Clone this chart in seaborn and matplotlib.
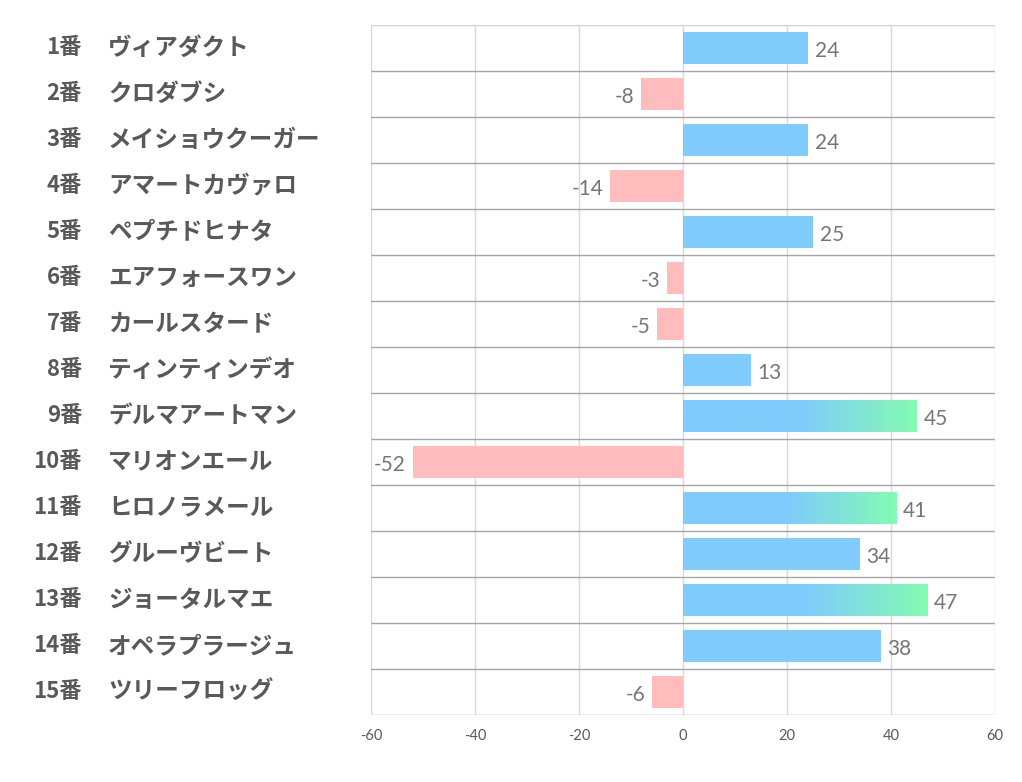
import matplotlib
matplotlib.use("Agg")
import matplotlib.pyplot as plt
import matplotlib.transforms as mtransforms
from matplotlib.colors import LinearSegmentedColormap
import numpy as np
import pandas as pd
import seaborn as sns

nums = ["1番", "2番", "3番", "4番", "5番", "6番", "7番", "8番", "9番", "10番",
        "11番", "12番", "13番", "14番", "15番"]
names = ["ヴィアダクト", "クロダブシ", "メイショウクーガー", "アマートカヴァロ", "ペプチドヒナタ",
         "エアフォースワン", "カールスタード", "ティンティンデオ", "デルマアートマン", "マリオンエール",
         "ヒロノラメール", "グルーヴビート", "ジョータルマエ", "オペラプラージュ", "ツリーフロッグ"]
values = [24, -8, 24, -14, 25, -3, -5, 13, 45, -52, 41, 34, 47, 38, -6]
xticks = [-60, -40, -20, 0, 20, 40, 60]

BLUE = "#7ccbfd"
PINK = "#ffbbbc"
GREEN = "#80fcb0"

sns.set_style("white")
plt.rcParams['font.family'] = ['Noto Sans CJK JP', 'DejaVu Sans']

df = pd.DataFrame({"label": [n + " " + m for n, m in zip(nums, names)], "value": values})
colors = [BLUE if v >= 0 else PINK for v in values]

fig = plt.figure(figsize=(10.22, 7.82), dpi=100)
ax = fig.add_axes([371 / 1022, 1 - 715 / 782, 624 / 1022, 690 / 782])

sns.barplot(data=df, x="value", y="label", hue="label", palette=colors, legend=False,
            width=0.68, ax=ax, zorder=3, alpha=0.98, linewidth=0, saturation=1)

ax.set_xlim(-60, 60)
ax.set_ylim(len(values) - 0.5, -0.5)
ax.set_xticks(xticks)
ax.set_xticklabels([str(t) for t in xticks], fontsize=10.5, color="#595959", family="Lato")
ax.tick_params(axis="x", length=0, pad=10)
ax.set_yticks([])
ax.set_xlabel("")
ax.set_ylabel("")
for s in ax.spines.values():
    s.set_visible(False)

# grid
for t in xticks:
    ax.axvline(t, color="#d9d9d9", lw=1, zorder=1)
ax.axhline(-0.5, color="#d0d0d0", lw=1, zorder=1)
for i in range(len(values)):
    ax.axhline(i + 0.5, color="#a6a6a6", lw=1, zorder=1)

# gradient bars
cmap = LinearSegmentedColormap.from_list("bg", [BLUE, BLUE, GREEN], N=256)
grad = np.linspace(0, 1, 256).reshape(1, -1)
for i, (p, v) in enumerate(zip(ax.patches, values)):
    if v >= 40:
        x0, y0 = p.get_x(), p.get_y()
        w, h = p.get_width(), p.get_height()
        p.set_facecolor("none")
        im = ax.imshow(grad, cmap=cmap, extent=[x0, x0 + w, y0 + h, y0], aspect="auto",
                       zorder=3, alpha=0.98, interpolation="bicubic")
        im.set_clip_path(p)

ax.set_xlim(-60, 60)
ax.set_ylim(len(values) - 0.5, -0.5)

# value labels
for i, v in enumerate(values):
    off = 1.3 if v >= 0 else -1.3
    ax.text(v + off, i + 0.06, str(v), ha="left" if v >= 0 else "right", va="center",
            fontsize=15, color="#767676", family="Lato", zorder=4)

# category labels
tr = mtransforms.blended_transform_factory(fig.transFigure, ax.transData)
for i, (n, m) in enumerate(zip(nums, names)):
    ax.text(82 / 1022, i, n, transform=tr, ha="right", va="center", fontsize=16,
            fontweight="bold", color="#595959")
    ax.text(108 / 1022, i, m, transform=tr, ha="left", va="center", fontsize=17,
            fontweight="bold", color="#595959")

fig.savefig("out.png", dpi=100)
